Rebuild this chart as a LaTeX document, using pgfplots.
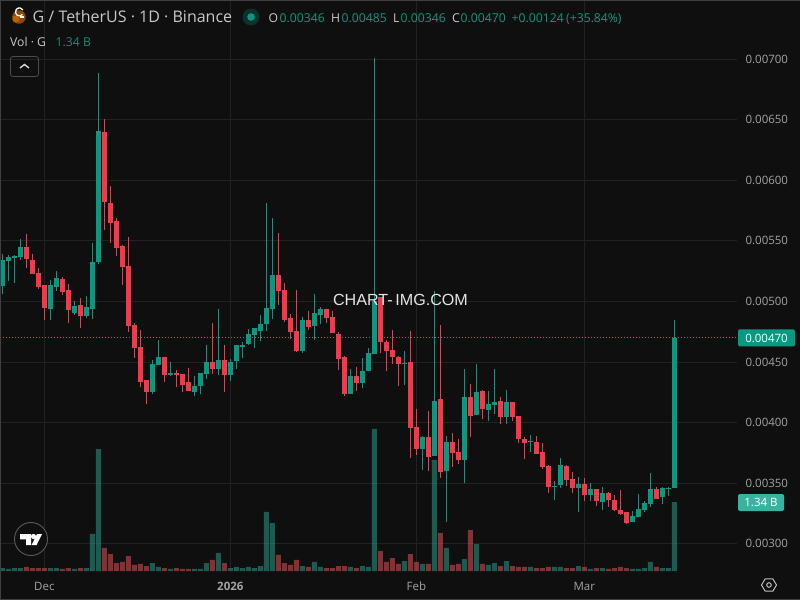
\documentclass[border=0pt]{standalone}
\usepackage{fontspec}
\setmainfont{Open Sans}
\newfontfamily\wmfont{Liberation Sans}
\usepackage{pgfplots}
\usepackage{pgfplotstable}
\pgfplotsset{compat=1.18}

\definecolor{bg}{HTML}{0F0F0F}
\definecolor{gridc}{HTML}{222222}
\definecolor{upc}{HTML}{089981}
\definecolor{dnc}{HTML}{F7374A}
\definecolor{volup}{HTML}{22AB94}
\definecolor{voldn}{HTML}{FF5157}
\definecolor{axtext}{HTML}{A3A3A3}
\definecolor{hdr}{HTML}{C8C8C8}

% i high bodytop bodybottom low volume(B)
\pgfplotstableread{
i hi top bot lo vol
0 0.005391 0.005342 0.005127 0.005061 0.058
1 0.005383 0.005366 0.005333 0.005168 0.039
2 0.005383 0.005375 0.005358 0.005152 0.058
3 0.005515 0.005449 0.005366 0.005342 0.058
8 0.005177 0.005135 0.004937 0.004847 0.058
9 0.005251 0.005193 0.005119 0.005086 0.058
12 0.005003 0.004962 0.004904 0.004888 0.039
14 0.005045 0.004954 0.004880 0.004863 0.058
15 0.005482 0.005325 0.004937 0.004855 0.719
16 0.006885 0.006406 0.005325 0.005309 2.369
25 0.004516 0.004483 0.004252 0.004236 0.155
26 0.004682 0.004541 0.004475 0.004475 0.078
28 0.004500 0.004409 0.004393 0.004384 0.039
32 0.004384 0.004302 0.004252 0.004219 0.039
33 0.004409 0.004409 0.004302 0.004236 0.039
34 0.004640 0.004500 0.004401 0.004360 0.155
36 0.004937 0.004516 0.004442 0.004393 0.350
38 0.004525 0.004500 0.004393 0.004343 0.058
39 0.004640 0.004640 0.004508 0.004442 0.078
40 0.004665 0.004640 0.004624 0.004533 0.058
41 0.004772 0.004731 0.004649 0.004640 0.078
42 0.004780 0.004780 0.004723 0.004615 0.058
43 0.004888 0.004814 0.004756 0.004673 0.097
44 0.005812 0.004946 0.004814 0.004756 1.146
45 0.005688 0.005218 0.004937 0.004855 0.932
50 0.004871 0.004847 0.004591 0.004574 0.097
52 0.005061 0.004904 0.004797 0.004682 0.175
53 0.004954 0.004937 0.004888 0.004814 0.078
58 0.004442 0.004384 0.004236 0.004236 0.078
60 0.004533 0.004426 0.004327 0.004285 0.097
61 0.004615 0.004574 0.004426 0.004426 0.078
62 0.007005 0.005003 0.004566 0.004566 2.758
67 0.004591 0.004492 0.004484 0.004310 0.194
70 0.003890 0.003881 0.003782 0.003609 0.136
72 0.005086 0.004178 0.003724 0.003724 2.156
74 0.003890 0.003840 0.003601 0.003182 0.447
77 0.004442 0.004211 0.003691 0.003502 0.233
79 0.004484 0.004253 0.004063 0.004063 0.524
81 0.004261 0.004154 0.004104 0.004013 0.117
82 0.004442 0.004170 0.004145 0.004071 0.155
84 0.004269 0.004170 0.004046 0.003989 0.194
88 0.003898 0.003848 0.003840 0.003758 0.078
92 0.003518 0.003477 0.003469 0.003361 0.078
93 0.003708 0.003650 0.003485 0.003460 0.078
96 0.003551 0.003493 0.003460 0.003262 0.097
98 0.003502 0.003452 0.003403 0.003353 0.039
100 0.003469 0.003419 0.003345 0.003279 0.058
105 0.003271 0.003229 0.003180 0.003180 0.039
106 0.003411 0.003287 0.003221 0.003221 0.039
107 0.003353 0.003337 0.003279 0.003262 0.058
108 0.003584 0.003452 0.003328 0.003304 0.175
110 0.003469 0.003460 0.003386 0.003328 0.058
111 0.003469 0.003460 0.003452 0.003394 0.058
112 0.004850 0.004700 0.003460 0.003460 1.340
}\upT

\pgfplotstableread{
i hi top bot lo vol
4 0.005556 0.005449 0.005350 0.005276 0.078
5 0.005391 0.005342 0.005226 0.005226 0.058
6 0.005276 0.005234 0.005119 0.005102 0.058
7 0.005135 0.005135 0.004946 0.004847 0.058
10 0.005201 0.005185 0.005078 0.005053 0.039
11 0.005144 0.005094 0.004929 0.004822 0.058
13 0.005028 0.004970 0.004880 0.004781 0.058
17 0.006505 0.006398 0.005820 0.005589 0.447
18 0.005952 0.005812 0.005647 0.005482 0.330
19 0.005688 0.005663 0.005441 0.005375 0.155
20 0.005465 0.005457 0.005284 0.005135 0.175
21 0.005531 0.005292 0.004797 0.004748 0.291
22 0.004822 0.004805 0.004615 0.004533 0.117
23 0.004764 0.004624 0.004335 0.004294 0.136
24 0.004352 0.004352 0.004252 0.004153 0.097
27 0.004541 0.004541 0.004393 0.004335 0.058
29 0.004434 0.004409 0.004393 0.004294 0.058
30 0.004401 0.004401 0.004310 0.004252 0.039
31 0.004450 0.004335 0.004261 0.004261 0.039
35 0.004822 0.004500 0.004442 0.004401 0.214
37 0.004640 0.004516 0.004393 0.004252 0.155
46 0.005564 0.005218 0.005086 0.004970 0.311
47 0.005152 0.005094 0.004847 0.004830 0.155
48 0.004896 0.004863 0.004748 0.004690 0.117
49 0.005094 0.004756 0.004591 0.004583 0.214
51 0.004921 0.004847 0.004789 0.004764 0.078
54 0.004937 0.004937 0.004863 0.004822 0.058
55 0.004921 0.004871 0.004739 0.004739 0.058
56 0.004748 0.004731 0.004525 0.004434 0.097
57 0.004550 0.004541 0.004236 0.004219 0.097
59 0.004459 0.004384 0.004327 0.004261 0.058
63 0.005034 0.005034 0.004665 0.004574 0.388
64 0.004682 0.004665 0.004591 0.004426 0.175
65 0.004764 0.004599 0.004541 0.004484 0.252
66 0.004550 0.004541 0.004484 0.004302 0.136
68 0.004756 0.004500 0.003955 0.003708 0.330
69 0.004112 0.003964 0.003782 0.003733 0.175
71 0.004096 0.003881 0.003716 0.003601 0.136
73 0.004805 0.004195 0.003592 0.003543 0.738
75 0.003914 0.003840 0.003749 0.003634 0.117
76 0.003865 0.003757 0.003691 0.003658 0.136
78 0.004319 0.004211 0.004055 0.003881 0.796
80 0.004269 0.004261 0.004112 0.004030 0.136
83 0.004211 0.004178 0.004046 0.003989 0.097
85 0.004170 0.004170 0.004046 0.004013 0.097
86 0.004055 0.004055 0.003865 0.003832 0.078
87 0.003881 0.003865 0.003832 0.003700 0.078
89 0.003890 0.003840 0.003741 0.003741 0.058
90 0.003832 0.003758 0.003634 0.003617 0.058
91 0.003650 0.003642 0.003469 0.003419 0.078
94 0.003650 0.003642 0.003526 0.003477 0.058
95 0.003593 0.003535 0.003460 0.003419 0.058
97 0.003543 0.003493 0.003403 0.003353 0.078
99 0.003452 0.003452 0.003353 0.003312 0.058
101 0.003427 0.003419 0.003361 0.003304 0.039
102 0.003403 0.003361 0.003279 0.003271 0.058
103 0.003444 0.003279 0.003246 0.003238 0.078
104 0.003262 0.003262 0.003172 0.003163 0.058
109 0.003469 0.003452 0.003370 0.003370 0.078
}\dnT

\pgfplotsset{
  panel/.style={
    at={(0,29pt)}, anchor=south west, scale only axis,
    width=737pt, height=571pt,
    xmin=-0.388, xmax=122.445,
    axis line style={draw=none}, tick style={draw=none},
    clip=true,
  },
  bare/.style={panel, xtick=\empty, ytick=\empty, axis lines=none},
  pricey/.style={ymin=0.002776, ymax=0.007487},
}

\begin{document}
\begin{tikzpicture}[x=1pt,y=1pt]
\fill[bg] (0,0) rectangle (800,600);
\useasboundingbox (0,0) rectangle (800,600);

% grid, price scale, time scale, last price line
\begin{axis}[
  panel, pricey,
  grid=major,
  grid style={gridc, line width=1pt},
  xtick={7,38,69,97},
  xticklabels={Dec,{\bfseries 2026},Feb,Mar},
  x tick label style={font=\fontsize{11.5}{13}\selectfont, text=axtext, anchor=base, yshift=-19pt},
  ytick={0.003,0.0035,0.004,0.0045,0.005,0.0055,0.006,0.0065,0.007},
  yticklabel pos=right,
  scaled y ticks=false,
  y tick label style={font=\fontsize{11.5}{13}\selectfont, text=axtext, anchor=west, xshift=5pt,
    /pgf/number format/fixed, /pgf/number format/fixed zerofill, /pgf/number format/precision=5,
    /pgf/number format/assume math mode=true},
]
\addplot[upc, line width=0.9pt, dash pattern=on 1pt off 2pt] coordinates {(-0.388,0.0047) (122.445,0.0047)};
\end{axis}

% volume
\begin{axis}[bare, ymin=0, ymax=11.09]
\addplot[ybar, bar width=5pt, bar shift=0pt, draw=none, fill=volup, fill opacity=0.5] table[x=i,y=vol] {\upT};
\addplot[ybar, bar width=5pt, bar shift=0pt, draw=none, fill=voldn, fill opacity=0.5] table[x=i,y=vol] {\dnT};
\end{axis}

% candles: wicks and bodies as error bars
\begin{axis}[bare, pricey]
\addplot[draw=none, mark=none, error bars/.cd, y dir=plus, y explicit, error mark=none,
    error bar style={draw=upc, line width=1pt}]
  table[x=i, y=lo, y error expr=\thisrow{hi}-\thisrow{lo}] {\upT};
\addplot[draw=none, mark=none, error bars/.cd, y dir=plus, y explicit, error mark=none,
    error bar style={draw=dnc, line width=1pt}]
  table[x=i, y=lo, y error expr=\thisrow{hi}-\thisrow{lo}] {\dnT};
\addplot[draw=none, mark=none, error bars/.cd, y dir=plus, y explicit, error mark=none,
    error bar style={draw=upc, line width=5pt}]
  table[x=i, y=bot, y error expr=\thisrow{top}-\thisrow{bot}] {\upT};
\addplot[draw=none, mark=none, error bars/.cd, y dir=plus, y explicit, error mark=none,
    error bar style={draw=dnc, line width=5pt}]
  table[x=i, y=bot, y error expr=\thisrow{top}-\thisrow{bot}] {\dnT};
\end{axis}

% overlay in pixel coordinates, y downward
\begin{scope}[shift={(0,600)}, y=-1pt]
\draw[color=black!75!white, line width=0.8pt] (0.4,600) -- (0.4,0.6) -- (800,0.6);
\draw[color=black!75!white, line width=0.8pt] (0,599.6) -- (800,599.6);

% header
\fill[color=orange!55!black] (19,17) circle (6.8);
\fill[color=orange!75!black] (16,19) circle (3.6);
\draw[white, line width=1.3pt] (22.5,14.5) arc (40:330:4);
\fill[white] (20,16.2) rectangle (23.5,17.6);
\node[anchor=base west, inner sep=0, hdr, font=\fontsize{16}{18}\selectfont] at (32.5,22.5) {G / TetherUS · 1D · Binance};
\fill[color=upc!25!bg] (251,17) circle (8.5);
\fill[upc] (251,17) circle (3.8);
\begin{scope}[every node/.style={anchor=base west, inner sep=0, font=\fontsize{12.2}{14}\selectfont}]
\node[hdr] at (268.5,22.5) {O};
\node[upc] at (279.5,22.5) {0.00346};
\node[hdr] at (331,22.5) {H};
\node[upc] at (341.5,22.5) {0.00485};
\node[hdr] at (393,22.5) {L};
\node[upc] at (400.5,22.5) {0.00346};
\node[hdr] at (452,22.5) {C};
\node[upc] at (460.5,22.5) {0.00470};
\node[upc] at (511.5,22.5) {+0.00124};
\node[upc] at (566,22.5) {(+35.84\%)};
\node[hdr] at (10,46.5) {Vol · G};
\node[color=volup!80!black] at (55.5,46.5) {1.34 B};
\end{scope}

% collapse button
\draw[color=black!70!white, line width=0.8pt, rounded corners=2.5pt] (10.5,56.5) rectangle (38.5,76.5);
\draw[white!85!black, line width=1.4pt] (20,68) -- (24.5,64.5) -- (29,68);

% watermark
\node[white!90!black, inner sep=0, font=\wmfont\fontsize{16.1}{18}\selectfont] at (400.5,300) {CHART-\,IMG.COM};

% logo
\draw[color=black!65!white, line width=0.9pt, fill=bg] (31,539) circle (16.5);
\fill[white] (20,534) -- (31,534) -- (31,545) -- (26,545) -- (26,539.3) -- (20,539.3) -- cycle;
\fill[white] (33.5,536.5) circle (2.6);
\fill[white] (37,534) -- (42,534) -- (36.5,545) -- (31.5,545) -- cycle;

% last value tags
\fill[upc, rounded corners=1.5pt] (738,329.3) rectangle (795,346.5);
\node[white, inner sep=0, font=\fontsize{11.5}{13}\selectfont] at (766.5,338) {0.00470};
\fill[color=volup!90!white, rounded corners=1.5pt] (738,494) rectangle (784,511);
\node[white, inner sep=0, font=\fontsize{11.5}{13}\selectfont] at (761,502.5) {1.34 B};

% settings icon
\draw[white!75!black, line width=1pt] (761.5,585) -- (765.2,578.8) -- (772.8,578.8) -- (776.5,585) -- (772.8,591.2) -- (765.2,591.2) -- cycle;
\draw[white!75!black, line width=1pt] (769,585) circle (2.3);
\end{scope}
\end{tikzpicture}
\end{document}
